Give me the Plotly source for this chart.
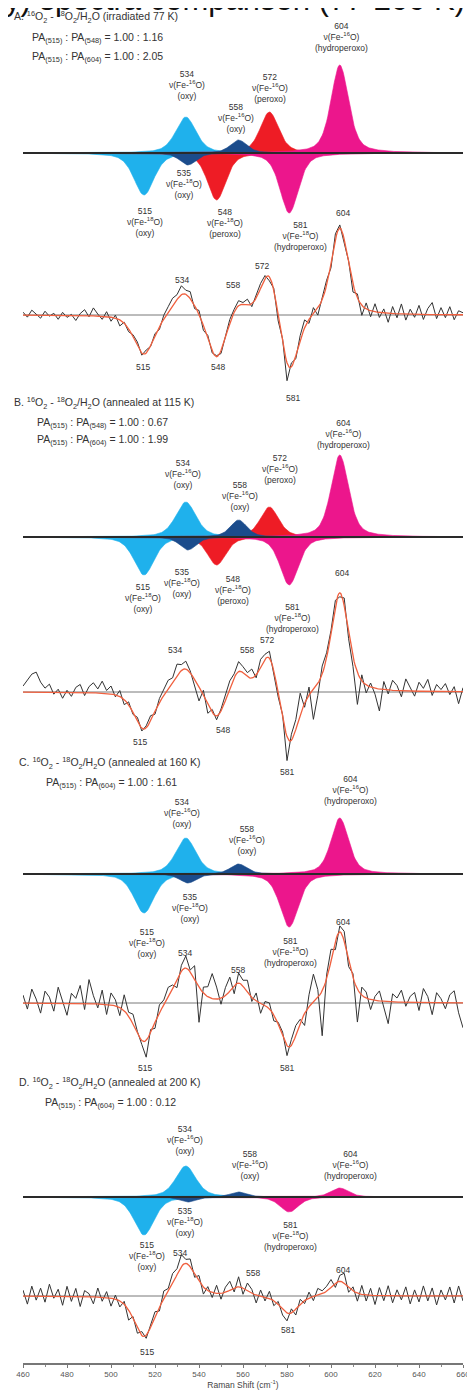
import numpy as np
import plotly.graph_objects as go

# ---------------- data ----------------
# Raman shift sampling of the experimental difference traces (cm-1)
shift = np.arange(460, 661, 2)
tick_vals = [460, 480, 500, 520, 540, 560, 580, 600, 620, 640, 660]

# deconvolved bands (shared by all panels)
centers = [515, 534, 535, 548, 558, 572, 581, 604]
fwhm = [11, 11, 9, 10, 9, 10, 10, 9.5]
band_kind = ["cyan", "cyan", "navy", "red", "navy", "red", "magenta", "magenta"]

# band amplitudes drawn in the deconvolution rows (a.u.)
comp_A = [-42, 36, -12, -47, 13, 41, -60, 88]
comp_B = [-38, 35, -13, -28, 17, 30, -48, 82]
comp_C = [-39, 36, -9, 0, 10, 0, -53, 56]
comp_D = [-38, 31, -5, 0, 5, 0, -15, 9]

# band amplitudes of the fit drawn over the experimental traces (a.u.)
fit_A = [-40, 36, -12, -45, 13, 48, -62, 88]
fit_B = [-38, 33, -8, -28, 22, 42, -58, 100]
fit_C = [-40, 42, -6, 0, 20, 0, -46, 72]
fit_D = [-42, 38, -4, 0, 9, 0, -18, 15]

resid_A = [3, -2, 5, 1, -3, 4, -1, 2, -4, 3,
           -2, 1, -5, 2, 6, -1, 8, 2, -3, 5,
           -4, 3, -6, 1, -3, 2, 4, -2, 3, -1,
           2, -3, 4, 6, 8, 5, 9, 4, 7, -3,
           4, -5, 3, -2, 1, -3, 2, 4, 3, 5,
           2, 6, -3, 4, 5, 3, -4, 2, -6, 3,
           -18, 4, -3, 5, 8, -4, 6, -7, 3, 5,
           -4, 6, 3, -5, 2, -8, 4, -10, 6, -6,
           8, -5, 4, -9, 7, -4, 10, -6, 5, -3,
           9, -5, 6, 12, -4, 7, -3, 8, -5, 4, 2]
resid_B = [6, 12, 18, 20, 10, 4, 8, -2, 3, -6,
           2, -4, 5, 8, -3, 6, 10, 4, 12, 3,
           8, -2, 6, -5, 3, -2, 4, -3, 2, 5,
           -3, 4, 6, 9, 5, 12, 6, 8, 2, -6,
           -14, 5, -9, 3, -4, 2, 6, 8, 4, 10,
           6, 4, 9, -3, 8, 5, 7, -5, -4, 3,
           -24, 6, 10, 22, -4, 8, -30, -12, 8, 5,
           3, 6, -4, 8, -6, -10, -32, 6, -8, 4,
           -6, -22, 8, -4, 10, 5, -6, 12, 4, -5,
           9, 3, 12, -4, 7, 2, 8, -3, 5, -12, 4]
resid_C = [8, -6, 14, 4, -10, 12, 6, -8, 16, 2,
           -12, 10, 5, 18, -6, 24, 8, -4, 14, -10,
           12, 6, -8, 16, 4, 10, 2, -4, -17, 3,
           -6, 8, 5, 10, 4, -8, 6, 12, 2, 14,
           -35, 6, 10, 25, 12, -6, 8, 14, -8, 10,
           6, 12, -4, 8, -10, 4, 6, -6, 2, 4,
           -10, 6, 10, 4, -12, 12, 28, 8, -45, 4,
           12, -8, 6, 10, -6, 4, -33, 8, 6, -10,
           4, 10, -6, -22, 8, 4, 12, -4, 6, 10,
           -8, 14, 6, -12, 10, 4, -6, 8, 12, -10, -25]
resid_D = [6, -8, 10, -4, 8, -6, 12, -2, 7, -9,
           10, -5, 8, -10, 6, 3, -7, 9, -4, 6,
           -8, 4, -6, 3, -10, 2, -5, 4, -3, 2,
           5, -4, 8, 3, 10, 6, 12, 4, 8, -3,
           6, -7, 4, -5, 8, -6, 5, 9, -4, 10,
           -6, 8, 4, -8, 6, -4, 7, -5, 3, -6,
           -8, 4, -6, 5, -3, 6, -4, 7, 3, 5,
           8, -4, 6, 10, -5, 4, -8, 9, -6, 7,
           -9, 8, -5, 10, -7, 6, -4, 9, -8, 6,
           -6, 10, -5, 8, -9, 6, -4, 9, -7, 10, -5]

headers_A = ["A. <sup>16</sup>O<sub>2</sub> - <sup>18</sup>O<sub>2</sub>/H<sub>2</sub>O (irradiated 77 K)",
             "PA<sub>(515)</sub> : PA<sub>(548)</sub> = 1.00 : 1.16",
             "PA<sub>(515)</sub> : PA<sub>(604)</sub> = 1.00 : 2.05"]
headers_B = ["B. <sup>16</sup>O<sub>2</sub> - <sup>18</sup>O<sub>2</sub>/H<sub>2</sub>O (annealed at 115 K)",
             "PA<sub>(515)</sub> : PA<sub>(548)</sub> = 1.00 : 0.67",
             "PA<sub>(515)</sub> : PA<sub>(604)</sub> = 1.00 : 1.99"]
headers_C = ["C. <sup>16</sup>O<sub>2</sub> - <sup>18</sup>O<sub>2</sub>/H<sub>2</sub>O (annealed at 160 K)",
             "PA<sub>(515)</sub> : PA<sub>(604)</sub> = 1.00 : 1.61"]
headers_D = ["D. <sup>16</sup>O<sub>2</sub> - <sup>18</sup>O<sub>2</sub>/H<sub>2</sub>O (annealed at 200 K)",
             "PA<sub>(515)</sub> : PA<sub>(604)</sub> = 1.00 : 0.12"]

band_text = {
    515: "515<br>ν(Fe-<sup>18</sup>O)<br>(oxy)",
    534: "534<br>ν(Fe-<sup>16</sup>O)<br>(oxy)",
    535: "535<br>ν(Fe-<sup>18</sup>O)<br>(oxy)",
    548: "548<br>ν(Fe-<sup>18</sup>O)<br>(peroxo)",
    558: "558<br>ν(Fe-<sup>16</sup>O)<br>(oxy)",
    572: "572<br>ν(Fe-<sup>16</sup>O)<br>(peroxo)",
    581: "581<br>ν(Fe-<sup>18</sup>O)<br>(hydroperoxo)",
    604: "604<br>ν(Fe-<sup>16</sup>O)<br>(hydroperoxo)",
}

# ---------------- layout / style ----------------
COLORS = {"cyan": "#1FB1EC", "navy": "#1B4C8C", "red": "#EE1C25", "magenta": "#EC168C"}
BODY = 8                       # page offset of the figure (browser body margin)
PLOT_LEFT, PW = 23.0, 440.0    # page px of x=460 and plot width
PLOT_TOP, PLOT_BOT = 8.0, 1363.0
H = PLOT_BOT - PLOT_TOP
FONT = "Liberation Sans, Arial, sans-serif"

panels = [
    dict(comp=comp_A, fit=fit_A, resid=resid_A, comp_base=153, spec_base=315,
         headers=headers_A, head_pos=[(12, 17), (30, 38), (30, 57)],
         comp_labels=[(534, 187, 85), (558, 236, 118), (572, 270, 88), (604, 341, 37),
                      (515, 145, 222), (535, 184, 184), (548, 225, 223), (581, 300, 236)],
         spec_labels=[("534", 182, 280), ("558", 233, 285), ("572", 262, 266), ("604", 343, 213),
                      ("515", 143, 367), ("548", 218, 367), ("581", 293, 398)]),
    dict(comp=comp_B, fit=fit_B, resid=resid_B, comp_base=537, spec_base=692,
         headers=headers_B, head_pos=[(12, 403), (35, 423), (35, 440)],
         comp_labels=[(534, 183, 474), (558, 240, 496), (572, 280, 469), (604, 343, 434),
                      (515, 143, 598), (535, 182, 583), (548, 233, 590), (581, 292, 618)],
         spec_labels=[("534", 175, 650), ("558", 247, 650), ("572", 267, 640), ("604", 342, 573),
                      ("515", 140, 742), ("548", 223, 730), ("581", 287, 772)]),
    dict(comp=comp_C, fit=fit_C, resid=resid_C, comp_base=874, spec_base=1003,
         headers=headers_C, head_pos=[(17, 763), (44, 783)],
         comp_labels=[(534, 182, 813), (558, 247, 840), (604, 350, 790),
                      (515, 147, 943), (535, 190, 908), (581, 290, 952)],
         spec_labels=[("534", 185, 953), ("558", 238, 970), ("604", 343, 922),
                      ("515", 145, 1068), ("581", 287, 1068)]),
    dict(comp=comp_D, fit=fit_D, resid=resid_D, comp_base=1197, spec_base=1296,
         headers=headers_D, head_pos=[(17, 1083), (43, 1103)],
         comp_labels=[(534, 185, 1140), (558, 250, 1165), (604, 350, 1165),
                      (535, 185, 1222), (581, 290, 1236), (515, 147, 1256)],
         spec_labels=[("534", 180, 1253), ("558", 253, 1273), ("604", 343, 1270),
                      ("515", 147, 1352), ("581", 288, 1330)]),
]

def band(x, c, a, w, eta=0.5):
    u = (np.asarray(x, float) - c) / w
    return a * (eta / (1 + 4 * u ** 2) + (1 - eta) * np.exp(-4 * np.log(2) * u ** 2))

def model(x, amps):
    return sum(band(x, c, a, w) for c, a, w in zip(centers, amps, fwhm))

def px_x(px):
    return (px - PLOT_LEFT) / PW

def px_y(py):
    return (PLOT_BOT - py) / H

xf = np.arange(460, 660.01, 0.5)
draw_order = ["cyan", "red", "magenta", "navy"]

fig = go.Figure()
layout_axes = {}
axis_idx = 0
for p in panels:
    # deconvolution row
    axis_idx += 1
    ca = "y" if axis_idx == 1 else f"y{axis_idx}"
    layout_axes[ca] = p["comp_base"]
    for kind in draw_order:
        for c, a, w, k in zip(centers, p["comp"], fwhm, band_kind):
            if k != kind or a == 0:
                continue
            col = COLORS[k]
            fig.add_trace(go.Scatter(x=xf, y=band(xf, c, a, w), mode="lines", fill="tozeroy",
                                     fillcolor=col, line=dict(color=col, width=0.6),
                                     yaxis=ca, hoverinfo="skip"))
    fig.add_trace(go.Scatter(x=[460, 660], y=[0, 0], mode="lines",
                             line=dict(color="#2a2a2a", width=2.2), yaxis=ca, hoverinfo="skip"))
    # experimental row
    axis_idx += 1
    sa = f"y{axis_idx}"
    layout_axes[sa] = p["spec_base"]
    fig.add_trace(go.Scatter(x=[460, 660], y=[0, 0], mode="lines",
                             line=dict(color="#555555", width=0.8), yaxis=sa, hoverinfo="skip"))
    exp = model(shift, p["fit"]) + np.array(p["resid"], float)
    fig.add_trace(go.Scatter(x=shift, y=exp, mode="lines",
                             line=dict(color="#333333", width=1.0), yaxis=sa, hoverinfo="skip"))
    fig.add_trace(go.Scatter(x=xf, y=model(xf, p["fit"]), mode="lines",
                             line=dict(color="#F0603F", width=1.3), yaxis=sa, hoverinfo="skip"))
    # texts
    for txt, (hx, hy) in zip(p["headers"], p["head_pos"]):
        fig.add_annotation(text=txt, xref="paper", yref="paper", x=px_x(hx), y=px_y(hy),
                           xanchor="left", yanchor="middle", showarrow=False,
                           font=dict(size=10.5, color="#333333", family=FONT))
    for c, lx, ly in p["comp_labels"]:
        fig.add_annotation(text=band_text[c], xref="paper", yref="paper", x=px_x(lx), y=px_y(ly),
                           xanchor="center", yanchor="middle", showarrow=False, align="center",
                           font=dict(size=8.5, color="#333333", family=FONT))
    for txt, lx, ly in p["spec_labels"]:
        fig.add_annotation(text=txt, xref="paper", yref="paper", x=px_x(lx), y=px_y(ly),
                           xanchor="center", yanchor="middle", showarrow=False,
                           font=dict(size=8.5, color="#333333", family=FONT))

# clipped caption text at the very top
fig.add_annotation(text="y) spectra comparison (77-200 K)", xref="paper", yref="paper",
                   x=px_x(3), y=1, xanchor="left", yanchor="bottom", yshift=-11,
                   showarrow=False, font=dict(size=31, color="#111111", family=FONT))

left_m = int(PLOT_LEFT - BODY)
lay = dict(
    width=475, height=1391,
    margin=dict(l=left_m, r=475 - left_m - int(PW), t=int(PLOT_TOP - BODY),
                b=1391 - int(PLOT_BOT - BODY)),
    paper_bgcolor="white", plot_bgcolor="white", showlegend=False,
    xaxis=dict(range=[460, 660], tickvals=tick_vals, ticktext=[str(v) for v in tick_vals],
               showgrid=False, zeroline=False, showline=True, linecolor="#777777", linewidth=1.5,
               ticks="outside", ticklen=3, tickcolor="#777777",
               minor=dict(ticks="outside", ticklen=2, dtick=10, tickcolor="#888888"),
               tickfont=dict(size=8, color="#555555", family=FONT),
               title=dict(text="Raman Shift (cm<sup>-1</sup>)", standoff=2,
                          font=dict(size=8.5, color="#444444", family=FONT)),
               automargin=False, fixedrange=True),
)
for name, base in layout_axes.items():
    key = "yaxis" if name == "y" else "yaxis" + name[1:]
    ax = dict(range=[-(PLOT_BOT - base), base - PLOT_TOP], visible=False, fixedrange=True)
    if name == "y":
        ax["domain"] = [0, 1]
    else:
        ax["overlaying"] = "y"
    lay[key] = ax
fig.update_layout(**lay)

fig.write_html("out.html")
